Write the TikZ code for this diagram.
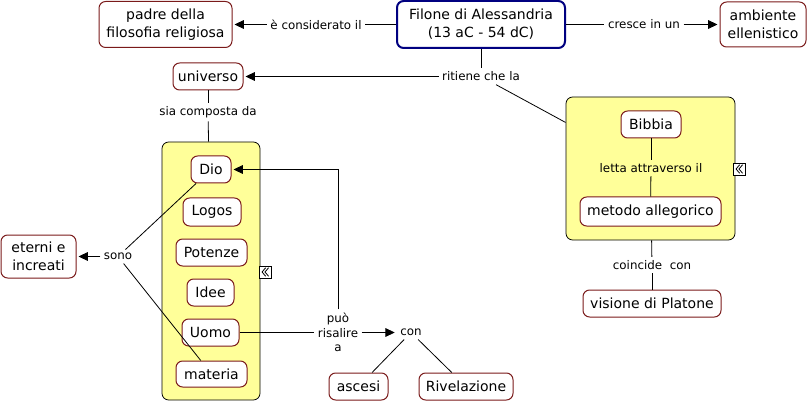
\documentclass[tikz,border=0pt]{standalone}
\usepackage{fontspec}
\setmainfont{DejaVu Sans}
\usetikzlibrary{arrows.meta}
\definecolor{cred}{HTML}{7A1A1A}
\definecolor{cnavy}{HTML}{000080}
\definecolor{cyel}{HTML}{FFFF99}
\tikzset{
  sz/.style 2 args={minimum width=#1*0.75pt, minimum height=#2*0.75pt},
  concept/.style={draw=cred, fill=white, line width=0.75pt, rounded corners=5pt, inner sep=1pt, align=center, font=\fontsize{10.5}{13.5}\selectfont},
  mainc/.style={concept, draw=cnavy, line width=1.5pt},
  grp/.style={draw=black, fill=cyel, line width=0.6pt, rounded corners=5pt},
  lbl/.style={inner sep=2.5pt, align=center, font=\fontsize{8.9}{11}\selectfont},
  conn/.style={draw=black, line width=0.6pt},
  arr/.style={conn, -{Triangle[length=7pt,width=6.5pt]}, shorten >=1.5pt},
  icon/.style={draw=black, fill=white, line width=0.5pt, minimum size=9pt, inner sep=0pt}
}
\newcommand{\chevicon}[2]{%
  \node[icon] (#1) at #2 {};
  \draw[line width=0.6pt] ([xshift=0.5pt,yshift=3.2pt]#1.center) -- ([xshift=-2.2pt]#1.center) -- ([xshift=0.5pt,yshift=-3.2pt]#1.center);
  \draw[line width=0.6pt] ([xshift=2.7pt,yshift=3.2pt]#1.center) -- ([xshift=0pt]#1.center) -- ([xshift=2.7pt,yshift=-3.2pt]#1.center);
}
\begin{document}
\begin{tikzpicture}[x=0.75pt,y=-0.75pt]
\useasboundingbox[fill=white] (0,0) rectangle (808,403);
% groups
\node[grp, sz={169}{143}] (gR) at (650.5,168.5) {};
\node[grp, sz={98}{258}] (gL) at (211,271) {};
% concepts
\node[mainc, sz={168}{47}] (filone) at (481,24.5) {Filone di Alessandria\\(13 aC - 54 dC)};
\node[concept, sz={133}{46}] (padre) at (165.5,24.5) {padre della\\filosofia religiosa};
\node[concept, sz={86}{45}] (ambiente) at (763,24.5) {ambiente\\ellenistico};
\node[concept, sz={70}{27}] (universo) at (208,76.5) {universo};
\node[concept, sz={60}{27}] (bibbia) at (651,124.5) {Bibbia};
\node[concept, sz={141}{29}] (metodo) at (650.5,211.5) {metodo allegorico};
\node[concept, sz={138}{27}] (visione) at (652,303.5) {visione di Platone};
\node[concept, sz={40}{27}] (dio) at (211,169.5) {Dio};
\node[concept, sz={58}{28}] (logos) at (212,212) {Logos};
\node[concept, sz={71}{27}] (potenze) at (211.5,252.5) {Potenze};
\node[concept, sz={47}{27}] (idee) at (210.5,292.5) {Idee};
\node[concept, sz={57}{27}] (uomo) at (210.5,332.5) {Uomo};
\node[concept, sz={71}{26}] (materia) at (211.5,374) {materia};
\node[concept, sz={75}{43}] (eterni) at (38.5,256.5) {eterni e\\increati};
\node[concept, sz={59}{27}] (ascesi) at (358.5,386.5) {ascesi};
\node[concept, sz={94}{27}] (rivel) at (466,386.5) {Rivelazione};
% labels
\node[lbl] (l1) at (316,24.5) {è considerato il};
\node[lbl] (l2) at (644,24.5) {cresce in un};
\node[lbl] (l3) at (481,76.5) {ritiene che la};
\node[lbl] (l4) at (208,112) {sia composta da};
\node[lbl] (l5) at (651,168) {letta attraverso il};
\node[lbl] (l6) at (652,265) {coincide\ \ con};
\node[lbl] (l7) at (118,256.5) {sono};
\node[lbl] (l8) at (338,332.5) {può\\risalire\\a};
\node[lbl] (l9) at (411,332.5) {con};
% icons
\chevicon{icL}{(265,272)}
\chevicon{icR}{(739,169)}
% connectors
\draw[conn] (filone) -- (l1);
\draw[arr] (l1) -- (padre);
\draw[conn] (filone) -- (l2);
\draw[arr] (l2) -- (ambiente);
\draw[conn] (filone) -- (l3);
\draw[arr] (l3) -- (universo);
\draw[conn] (l3) -- (gR);
\draw[conn] (universo) -- (l4);
\draw[conn] (l4) -- (gL);
\draw[conn] (bibbia) -- (l5);
\draw[conn] (l5) -- (metodo);
\draw[conn] (gR) -- (l6);
\draw[conn] (l6) -- (visione);
\draw[arr] (l7) -- (eterni);
\draw[conn] (l7) -- (dio);
\draw[conn] (l7) -- (materia);
\draw[conn] (uomo) -- (l8);
\draw[arr] (l8.north) |- (dio.east);
\draw[arr] (l8) -- (l9);
\draw[conn] (l9) -- (ascesi);
\draw[conn] (l9) -- (rivel);
\end{tikzpicture}
\end{document}
